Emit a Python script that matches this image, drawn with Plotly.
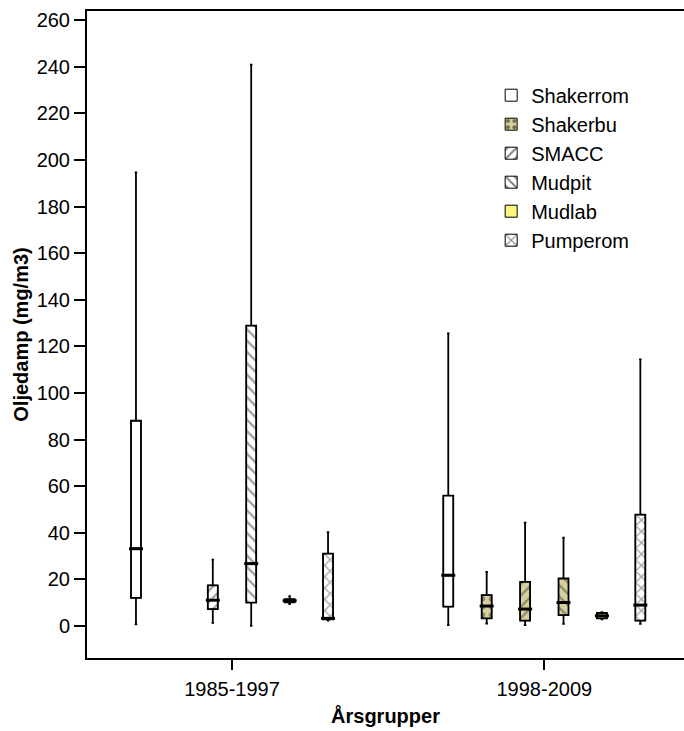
import plotly.graph_objects as go

categories = ["1985-1997", "1998-2009"]
series = ["Shakerrom", "Shakerbu", "SMACC", "Mudpit", "Mudlab", "Pumperom"]

# per series: values for [1985-1997, 1998-2009]; None = no data
lower = {
    "Shakerrom": [0.7, 0.4],
    "Shakerbu": [None, 1.1],
    "SMACC": [1.4, 0.4],
    "Mudpit": [0.1, 0.9],
    "Mudlab": [9.4, 2.9],
    "Pumperom": [2.3, 0.9],
}
q1 = {
    "Shakerrom": [12.1, 8.3],
    "Shakerbu": [None, 3.3],
    "SMACC": [7.3, 2.3],
    "Mudpit": [10.1, 4.7],
    "Mudlab": [10.2, 3.3],
    "Pumperom": [2.9, 2.3],
}
median = {
    "Shakerrom": [33.2, 21.8],
    "Shakerbu": [None, 8.6],
    "SMACC": [11.1, 7.3],
    "Mudpit": [26.8, 10.1],
    "Mudlab": [10.9, 4.4],
    "Pumperom": [3.3, 9.0],
}
q3 = {
    "Shakerrom": [88.1, 56.0],
    "Shakerbu": [None, 13.3],
    "SMACC": [17.5, 19.0],
    "Mudpit": [128.9, 20.4],
    "Mudlab": [11.5, 5.6],
    "Pumperom": [31.1, 47.8],
}
upper = {
    "Shakerrom": [194.7, 125.6],
    "Shakerbu": [None, 23.2],
    "SMACC": [28.5, 44.4],
    "Mudpit": [240.9, 37.9],
    "Mudlab": [12.8, 6.0],
    "Pumperom": [40.3, 114.4],
}
y_ticks = list(range(0, 261, 20))

BEIGE = "#d8d09c"
YELLOW = "#fbf77e"
fills = {
    "Shakerrom": ["white", "white"],
    "Shakerbu": ["white", BEIGE],
    "SMACC": ["white", BEIGE],
    "Mudpit": ["white", BEIGE],
    "Mudlab": [YELLOW, YELLOW],
    "Pumperom": ["white", "white"],
}
patterns = {
    "Shakerrom": "",
    "Shakerbu": ".",
    "SMACC": "/",
    "Mudpit": "\\",
    "Mudlab": "",
    "Pumperom": "x",
}

FONT = "Arial, 'Liberation Sans', sans-serif"
fig = go.Figure()

for s in series:
    xs, base, height, cols = [], [], [], []
    for i, c in enumerate(categories):
        if q1[s][i] is None:
            continue
        xs.append(c)
        base.append(q1[s][i])
        height.append(q3[s][i] - q1[s][i])
        cols.append(fills[s][i])
    fig.add_trace(go.Bar(
        x=xs, y=height, base=base, name=s, offsetgroup=s,
        marker=dict(color=cols, line=dict(color="black", width=1),
                    pattern=dict(shape=patterns[s], fgcolor="black", size=8, solidity=0.3)),
        hoverinfo="skip",
    ))

for s in series:
    xs, a, b, m, c3, d = [], [], [], [], [], []
    for i, c in enumerate(categories):
        if q1[s][i] is None:
            continue
        xs.append(c)
        a.append(lower[s][i]); b.append(q1[s][i]); m.append(median[s][i])
        c3.append(q3[s][i]); d.append(upper[s][i])
    fig.add_trace(go.Box(
        x=xs, lowerfence=a, q1=b, median=m, q3=c3, upperfence=d,
        name=s, offsetgroup=s, showlegend=False,
        fillcolor="rgba(0,0,0,0)", line=dict(color="black", width=1.8),
        whiskerwidth=0.25, boxpoints=False, hoverinfo="skip",
    ))

# thicker median strokes
for s in series:
    xs, m = [], []
    for i, c in enumerate(categories):
        if median[s][i] is None:
            continue
        xs.append(c)
        m.append(median[s][i])
    fig.add_trace(go.Scatter(
        x=xs, y=m, mode="markers", offsetgroup=s, showlegend=False,
        marker=dict(symbol="line-ew", size=10, line=dict(color="black", width=3)),
        hoverinfo="skip",
    ))

fig.update_layout(
    width=684, height=731,
    margin=dict(l=87, r=0, t=11, b=73),
    paper_bgcolor="white", plot_bgcolor="white",
    font=dict(family=FONT, size=20, color="black"),
    barmode="group", bargap=0.262, bargroupgap=0.74,
    boxmode="group", boxgap=0.262, boxgroupgap=0.74,
    scattermode="group", scattergap=0.262,
    showlegend=True,
    legend=dict(x=0.677, y=0.9, xanchor="left", yanchor="top",
                font=dict(size=20), bgcolor="rgba(0,0,0,0)", tracegroupgap=0),
)
fig.update_xaxes(
    type="category", categoryorder="array", categoryarray=categories,
    range=[-0.4643, 1.4473], automargin=False,
    showline=True, linecolor="black", linewidth=2, mirror=True,
    ticks="outside", ticklen=10, tickcolor="black", tickwidth=1.5,
    ticklabelstandoff=2,
    showgrid=False, zeroline=False,
    tickfont=dict(size=20),
    title=dict(text="<b>Årsgrupper</b>", font=dict(size=20), standoff=10),
)
fig.update_yaxes(
    range=[-13.7, 263.9], tickvals=y_ticks, automargin=False,
    showline=True, linecolor="black", linewidth=2,
    ticks="outside", ticklen=11, tickcolor="black", tickwidth=1.5,
    showgrid=False, zeroline=False,
    tickfont=dict(size=20),
    title=dict(text="<b>Oljedamp (mg/m3)</b>", font=dict(size=20), standoff=3),
)

fig.write_html(
    "out.html",
    config={"displayModeBar": False},
    post_script="document.body.style.margin='0';document.body.style.overflow='hidden';",
)
